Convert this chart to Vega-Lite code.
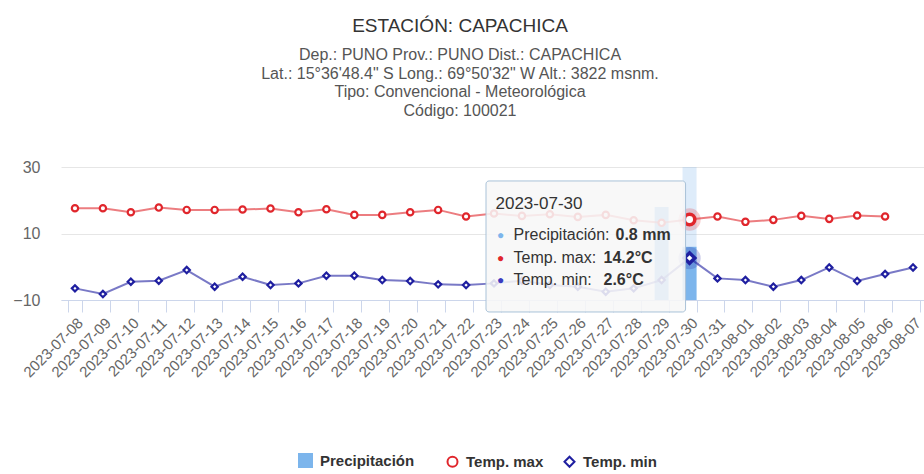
{
  "$schema": "https://vega.github.io/schema/vega-lite/v6.json",
  "width": 866,
  "height": 133,
  "autosize": {"type": "none"},
  "padding": {"left": 61, "top": 167, "right": 0, "bottom": 174},
  "background": "white",
  "config": {
    "font": "Liberation Sans, Arial, sans-serif",
    "view": {"stroke": null},
    "legend": {
      "orient": "none",
      "direction": "horizontal",
      "title": null,
      "labelFontWeight": "bold",
      "labelColor": "#333333",
      "columnPadding": 16,
      "labelOffset": 6,
      "symbolOpacity": 1
    }
  },
  "title": {
    "text": "ESTACIÓN: CAPACHICA",
    "subtitle": ["Dep.: PUNO Prov.: PUNO Dist.: CAPACHICA", "Lat.: 15°36'48.4\" S Long.: 69°50'32\" W Alt.: 3822 msnm.", "Tipo: Convencional - Meteorológica", "Código: 100021"],
    "anchor": "middle",
    "dx": -34,
    "offset": 40,
    "fontSize": 19,
    "fontWeight": "normal",
    "color": "#333333",
    "subtitleFontSize": 16,
    "subtitleColor": "#555555",
    "subtitleLineHeight": 18.7,
    "subtitlePadding": 11
  },
  "datasets": {
    "clima": [
      {"fecha": "2023-07-08", "pp": 0, "tmax": 17.6, "tmin": -6.5},
      {"fecha": "2023-07-09", "pp": 0, "tmax": 17.6, "tmin": -8.2},
      {"fecha": "2023-07-10", "pp": 0, "tmax": 16.4, "tmin": -4.5},
      {"fecha": "2023-07-11", "pp": 0, "tmax": 17.8, "tmin": -4.2},
      {"fecha": "2023-07-12", "pp": 0, "tmax": 17.1, "tmin": -1.0},
      {"fecha": "2023-07-13", "pp": 0, "tmax": 17.1, "tmin": -6.0},
      {"fecha": "2023-07-14", "pp": 0, "tmax": 17.2, "tmin": -3.0},
      {"fecha": "2023-07-15", "pp": 0, "tmax": 17.5, "tmin": -5.5},
      {"fecha": "2023-07-16", "pp": 0, "tmax": 16.4, "tmin": -5.0},
      {"fecha": "2023-07-17", "pp": 0, "tmax": 17.3, "tmin": -2.7},
      {"fecha": "2023-07-18", "pp": 0, "tmax": 15.6, "tmin": -2.7},
      {"fecha": "2023-07-19", "pp": 0, "tmax": 15.6, "tmin": -4.0},
      {"fecha": "2023-07-20", "pp": 0, "tmax": 16.4, "tmin": -4.3},
      {"fecha": "2023-07-21", "pp": 0, "tmax": 17.1, "tmin": -5.3},
      {"fecha": "2023-07-22", "pp": 0, "tmax": 15.1, "tmin": -5.5},
      {"fecha": "2023-07-23", "pp": 0, "tmax": 16.0, "tmin": -5.0},
      {"fecha": "2023-07-24", "pp": 0, "tmax": 15.3, "tmin": -4.2},
      {"fecha": "2023-07-25", "pp": 0, "tmax": 15.8, "tmin": -5.5},
      {"fecha": "2023-07-26", "pp": 0, "tmax": 15.0, "tmin": -6.0},
      {"fecha": "2023-07-27", "pp": 0, "tmax": 15.6, "tmin": -7.5},
      {"fecha": "2023-07-28", "pp": 0, "tmax": 14.0, "tmin": -6.5},
      {"fecha": "2023-07-29", "pp": 1.4, "tmax": 13.2, "tmin": -4.0},
      {"fecha": "2023-07-30", "pp": 0.8, "tmax": 14.2, "tmin": 2.6},
      {"fecha": "2023-07-31", "pp": 0, "tmax": 15.1, "tmin": -3.5},
      {"fecha": "2023-08-01", "pp": 0, "tmax": 13.5, "tmin": -4.0},
      {"fecha": "2023-08-02", "pp": 0, "tmax": 14.1, "tmin": -6.0},
      {"fecha": "2023-08-03", "pp": 0, "tmax": 15.3, "tmin": -4.0},
      {"fecha": "2023-08-04", "pp": 0, "tmax": 14.4, "tmin": -0.2},
      {"fecha": "2023-08-05", "pp": 0, "tmax": 15.4, "tmin": -4.3},
      {"fecha": "2023-08-06", "pp": 0, "tmax": 15.1, "tmin": -2.2},
      {"fecha": "2023-08-07", "pp": 0, "tmin": -0.2}
    ]
  },
  "data": {"name": "clima"},
  "encoding": {
    "x": {
      "field": "fecha",
      "type": "ordinal",
      "scale": {"paddingInner": 0.5, "paddingOuter": 0.25},
      "axis": {
        "title": null,
        "labelAngle": -45,
        "labelFontSize": 15,
        "labelColor": "#666666",
        "domainColor": "#ccd6eb",
        "tickColor": "#ccd6eb",
        "tickSize": 12,
        "tickBand": "extent",
        "labelPadding": 3,
        "grid": false
      }
    }
  },
  "layer": [
    {
      "transform": [{"filter": "datum.fecha == '2023-07-30'"}],
      "mark": {"type": "bar", "color": "#7cb5ec", "opacity": 0.25},
      "encoding": {
        "y": {"datum": 30, "type": "quantitative", "scale": {"domain": [-10, 30], "nice": false, "zero": false}, "axis": null},
        "y2": {"datum": -10}
      }
    },
    {
      "transform": [{"fold": ["pp"], "as": ["serie", "valor"]}],
      "mark": {"type": "bar", "opacity": 1},
      "encoding": {
        "y": {"field": "valor", "type": "quantitative", "scale": {"domain": [0, 2], "nice": false}, "axis": null},
        "fill": {
          "field": "serie", "type": "nominal",
          "scale": {"domain": ["pp"], "range": ["#7cb5ec"]},
          "legend": {"legendX": 236, "legendY": 285, "labelFontSize": 15, "symbolType": "square", "symbolSize": 225, "labelExpr": "'Precipitación'"}
        }
      }
    },
    {
      "transform": [{"fold": ["tmax", "tmin"], "as": ["serie", "valor"]}, {"filter": "isValid(datum.valor)"}],
      "mark": {"type": "line", "strokeWidth": 2, "opacity": 0.6},
      "encoding": {
        "y": {
          "field": "valor", "type": "quantitative",
          "scale": {"domain": [-10, 30], "nice": false, "zero": false},
          "axis": {"title": null, "values": [-10, 10, 30], "grid": true, "gridColor": "#e6e6e6", "domain": false, "ticks": false, "labelFontSize": 16, "labelColor": "#666666", "labelPadding": 21}
        },
        "stroke": {
          "field": "serie", "type": "nominal",
          "scale": {"domain": ["tmax", "tmin"], "range": ["#e0262c", "#1f1fa0"]},
          "legend": {"legendX": 384, "legendY": 287, "labelFontSize": 15, "symbolSize": 100, "symbolStrokeWidth": 2, "symbolFillColor": "white", "labelExpr": "datum.label == 'tmax' ? 'Temp. max' : 'Temp. min'"}
        }
      }
    },
    {
      "transform": [{"fold": ["tmax", "tmin"], "as": ["serie", "valor"]}, {"filter": "isValid(datum.valor)"}],
      "mark": {"type": "point", "filled": false, "fill": "white", "strokeWidth": 2.2, "size": 40, "opacity": 1},
      "encoding": {
        "y": {"field": "valor", "type": "quantitative", "scale": {"domain": [-10, 30], "nice": false, "zero": false}, "axis": null},
        "stroke": {
          "field": "serie", "type": "nominal",
          "scale": {"domain": ["tmax", "tmin"], "range": ["#e0262c", "#1f1fa0"]},
          "legend": {"legendX": 384, "legendY": 287, "labelFontSize": 15, "symbolSize": 100, "symbolStrokeWidth": 2, "symbolFillColor": "white", "labelExpr": "datum.label == 'tmax' ? 'Temp. max' : 'Temp. min'"}
        },
        "shape": {
          "field": "serie", "type": "nominal",
          "scale": {"domain": ["tmax", "tmin"], "range": ["circle", "diamond"]},
          "legend": {"legendX": 384, "legendY": 287, "labelFontSize": 15, "symbolSize": 100, "symbolStrokeWidth": 2, "symbolFillColor": "white", "labelExpr": "datum.label == 'tmax' ? 'Temp. max' : 'Temp. min'"}
        }
      }
    },
    {
      "mark": {"type": "point", "filled": true, "size": 500, "opacity": 0.22, "color": "#e0262c", "shape": "circle"},
      "transform": [{"filter": "datum.fecha == '2023-07-30'"}],
      "encoding": {
        "y": {"field": "tmax", "type": "quantitative", "scale": {"domain": [-10, 30], "nice": false, "zero": false}, "axis": null}
      }
    },
    {
      "mark": {"type": "point", "filled": true, "size": 500, "opacity": 0.22, "color": "#1f1fa0", "shape": "circle"},
      "transform": [{"filter": "datum.fecha == '2023-07-30'"}],
      "encoding": {
        "y": {"field": "tmin", "type": "quantitative", "scale": {"domain": [-10, 30], "nice": false, "zero": false}, "axis": null}
      }
    },
    {
      "mark": {"type": "point", "filled": false, "fill": "white", "strokeWidth": 3.5, "size": 110, "opacity": 1, "color": "#e0262c", "shape": "circle"},
      "transform": [{"filter": "datum.fecha == '2023-07-30'"}],
      "encoding": {
        "y": {"field": "tmax", "type": "quantitative", "scale": {"domain": [-10, 30], "nice": false, "zero": false}, "axis": null}
      }
    },
    {
      "mark": {"type": "point", "filled": false, "fill": "white", "strokeWidth": 3.5, "size": 110, "opacity": 1, "color": "#1f1fa0", "shape": "diamond"},
      "transform": [{"filter": "datum.fecha == '2023-07-30'"}],
      "encoding": {
        "y": {"field": "tmin", "type": "quantitative", "scale": {"domain": [-10, 30], "nice": false, "zero": false}, "axis": null}
      }
    },
    {
      "transform": [{"filter": "datum.fecha == '2023-07-30'"}],
      "mark": {"type": "rect", "fill": "#f7f7f7", "fillOpacity": 0.88, "stroke": "#a9c2d8", "strokeWidth": 1, "cornerRadius": 3, "xOffset": -8, "x2Offset": -4},
      "encoding": {
        "x": {"datum": "2023-07-23"},
        "x2": {"datum": "2023-07-30"},
        "y": {"datum": 25.8, "type": "quantitative", "scale": {"domain": [-10, 30], "nice": false, "zero": false}, "axis": null},
        "y2": {"datum": -13.6}
      }
    },
    {
      "transform": [{"filter": "datum.fecha == '2023-07-30'"}],
      "mark": {"type": "text", "text": "2023-07-30", "align": "left", "baseline": "middle", "dx": 1.5, "fontSize": 17, "color": "#333333"},
      "encoding": {
        "x": {"datum": "2023-07-23"},
        "y": {"datum": 18.9, "type": "quantitative", "scale": {"domain": [-10, 30], "nice": false, "zero": false}, "axis": null}
      }
    },
    {
      "transform": [{"filter": "datum.fecha == '2023-07-30'"}],
      "mark": {"type": "text", "text": "●", "align": "center", "baseline": "middle", "dx": 6.5, "fontSize": 12, "color": "#7cb5ec"},
      "encoding": {
        "x": {"datum": "2023-07-23"},
        "y": {"datum": 9.55, "type": "quantitative", "scale": {"domain": [-10, 30], "nice": false, "zero": false}, "axis": null}
      }
    },
    {
      "transform": [{"filter": "datum.fecha == '2023-07-30'"}],
      "mark": {"type": "text", "text": "●", "align": "center", "baseline": "middle", "dx": 6.5, "fontSize": 12, "color": "#e0262c"},
      "encoding": {
        "x": {"datum": "2023-07-23"},
        "y": {"datum": 2.63, "type": "quantitative", "scale": {"domain": [-10, 30], "nice": false, "zero": false}, "axis": null}
      }
    },
    {
      "transform": [{"filter": "datum.fecha == '2023-07-30'"}],
      "mark": {"type": "text", "text": "●", "align": "center", "baseline": "middle", "dx": 6.5, "fontSize": 12, "color": "#3b3bc0"},
      "encoding": {
        "x": {"datum": "2023-07-23"},
        "y": {"datum": -3.98, "type": "quantitative", "scale": {"domain": [-10, 30], "nice": false, "zero": false}, "axis": null}
      }
    },
    {
      "transform": [{"filter": "datum.fecha == '2023-07-30'"}],
      "mark": {"type": "text", "text": "Precipitación: ", "align": "left", "baseline": "middle", "dx": 19.5, "fontSize": 16, "color": "#333333"},
      "encoding": {
        "x": {"datum": "2023-07-23"},
        "y": {"datum": 9.55, "type": "quantitative", "scale": {"domain": [-10, 30], "nice": false, "zero": false}, "axis": null}
      }
    },
    {
      "transform": [{"filter": "datum.fecha == '2023-07-30'"}],
      "mark": {"type": "text", "text": "Temp. max: ", "align": "left", "baseline": "middle", "dx": 19.5, "fontSize": 16, "color": "#333333"},
      "encoding": {
        "x": {"datum": "2023-07-23"},
        "y": {"datum": 2.63, "type": "quantitative", "scale": {"domain": [-10, 30], "nice": false, "zero": false}, "axis": null}
      }
    },
    {
      "transform": [{"filter": "datum.fecha == '2023-07-30'"}],
      "mark": {"type": "text", "text": "Temp. min: ", "align": "left", "baseline": "middle", "dx": 19.5, "fontSize": 16, "color": "#333333"},
      "encoding": {
        "x": {"datum": "2023-07-23"},
        "y": {"datum": -3.98, "type": "quantitative", "scale": {"domain": [-10, 30], "nice": false, "zero": false}, "axis": null}
      }
    },
    {
      "transform": [{"filter": "datum.fecha == '2023-07-30'"}],
      "mark": {"type": "text", "text": "0.8 mm", "align": "left", "baseline": "middle", "dx": 121.5, "fontSize": 16, "fontWeight": "bold", "color": "#333333"},
      "encoding": {
        "x": {"datum": "2023-07-23"},
        "y": {"datum": 9.55, "type": "quantitative", "scale": {"domain": [-10, 30], "nice": false, "zero": false}, "axis": null}
      }
    },
    {
      "transform": [{"filter": "datum.fecha == '2023-07-30'"}],
      "mark": {"type": "text", "text": "14.2°C", "align": "left", "baseline": "middle", "dx": 109.5, "fontSize": 16, "fontWeight": "bold", "color": "#333333"},
      "encoding": {
        "x": {"datum": "2023-07-23"},
        "y": {"datum": 2.63, "type": "quantitative", "scale": {"domain": [-10, 30], "nice": false, "zero": false}, "axis": null}
      }
    },
    {
      "transform": [{"filter": "datum.fecha == '2023-07-30'"}],
      "mark": {"type": "text", "text": "2.6°C", "align": "left", "baseline": "middle", "dx": 109.5, "fontSize": 16, "fontWeight": "bold", "color": "#333333"},
      "encoding": {
        "x": {"datum": "2023-07-23"},
        "y": {"datum": -3.98, "type": "quantitative", "scale": {"domain": [-10, 30], "nice": false, "zero": false}, "axis": null}
      }
    }
  ],
  "resolve": {"scale": {"y": "independent"}}
}
